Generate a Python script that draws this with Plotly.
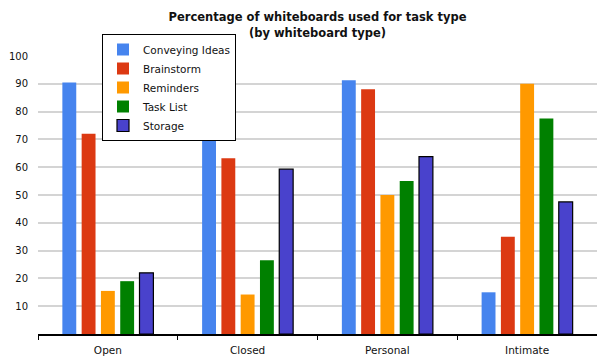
import plotly.graph_objects as go

categories = ["Open", "Closed", "Personal", "Intimate"]
series_names = ["Conveying Ideas", "Brainstorm", "Reminders", "Task List", "Storage"]
conveying = [90.5, 71.5, 91.3, 15.0]
brainstorm = [72.0, 63.2, 88.0, 35.0]
reminders = [15.5, 14.2, 50.0, 90.0]
task_list = [19.0, 26.5, 55.0, 77.5]
storage = [22.0, 59.3, 63.8, 47.5]
y_ticks = [10, 20, 30, 40, 50, 60, 70, 80, 90, 100]
title_line1 = "Percentage of whiteboards used for task type"
title_line2 = "(by whiteboard type)"

colors = ["#4684EE", "#DC3912", "#FF9900", "#008000", "#4942CC"]
values = [conveying, brainstorm, reminders, task_list, storage]

fig = go.Figure()
for name, vals, col in zip(series_names, values, colors):
    outline = name == "Storage"
    fig.add_trace(go.Bar(
        x=categories, y=vals, name=name,
        marker=dict(color=col, line=dict(color="black" if outline else col, width=1.2 if outline else 0)),
    ))

fig.update_layout(
    width=597, height=362,
    margin=dict(l=38, r=0, t=56, b=28),
    plot_bgcolor="white", paper_bgcolor="white",
    barmode="group", bargap=0.31, bargroupgap=0.28,
    font=dict(family="DejaVu Sans", size=10, color="#222"),
    title=dict(
        text="<b>" + title_line1 + "</b>",
        x=0.5, xref="paper", xanchor="center", y=1 - 17 / 362, yref="container", yanchor="middle",
        font=dict(family="DejaVu Sans", size=11.5, color="#111"),
    ),
    annotations=[dict(
        text="<b>" + title_line2 + "</b>", xref="paper", yref="paper",
        x=0.5, y=(334 - 33) / 278, xanchor="center", yanchor="middle", showarrow=False,
        font=dict(family="DejaVu Sans", size=11.5, color="#111"),
    )],
    legend=dict(
        x=(102 - 38) / 559, y=(334 - 34) / 278, xanchor="left", yanchor="top",
        bordercolor="black", borderwidth=1, bgcolor="white",
        font=dict(family="DejaVu Sans", size=10.5, color="#111"),
        itemwidth=30, tracegroupgap=0,
    ),
    showlegend=True,
)
fig.update_xaxes(
    type="category", tickson="boundaries", ticks="outside", ticklen=4,
    tickcolor="black", showline=True, linecolor="black", linewidth=1.5,
    showgrid=False, tickfont=dict(size=10.5, color="#111"), ticklabelstandoff=6,
)
fig.update_yaxes(
    range=[0, 100], tickvals=y_ticks, showgrid=True, gridcolor="#d4d4d4",
    gridwidth=1.5, zeroline=False, showline=False, ticks="",
    tickfont=dict(size=10, color="#111"), ticklabelstandoff=9,
)
fig.write_html("out.html")
